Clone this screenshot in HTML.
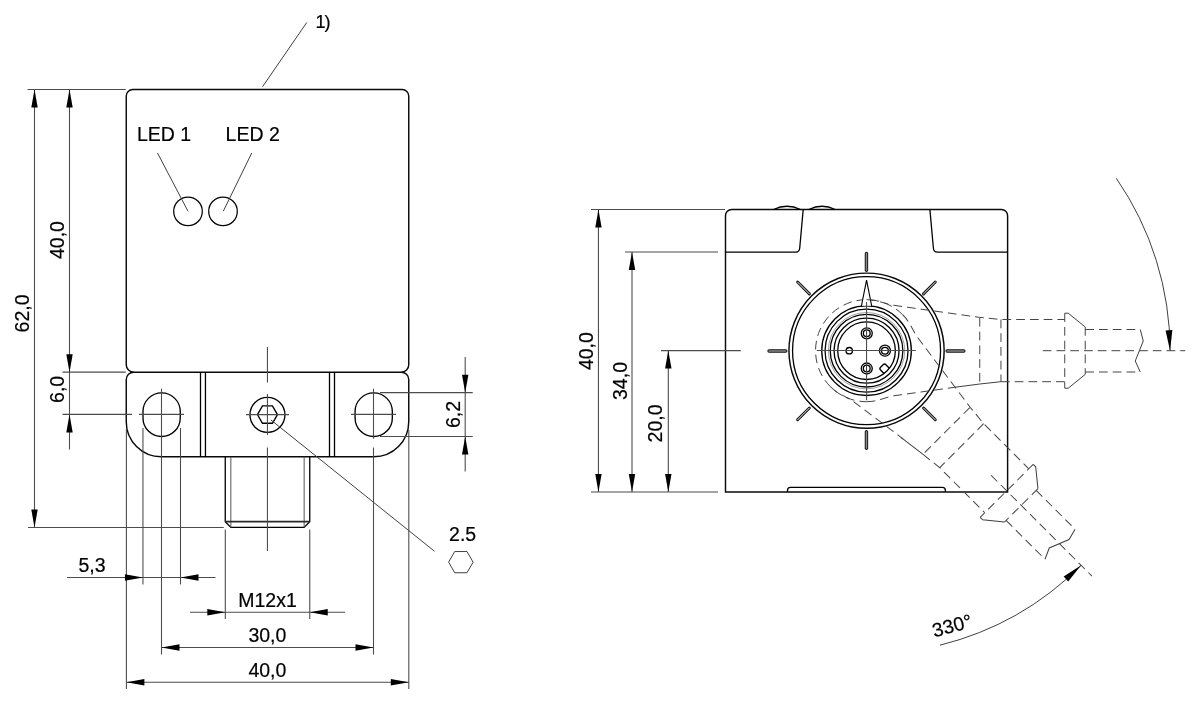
<!DOCTYPE html>
<html><head><meta charset="utf-8"><title>Dimension drawing</title>
<style>
html,body{margin:0;padding:0;background:#fff;}
body{width:1200px;height:705px;overflow:hidden;font-family:"Liberation Sans",sans-serif;}
svg{display:block;will-change:transform;}
svg text{font-family:"Liberation Sans",sans-serif;fill:#000;stroke:#000;stroke-width:0.2;}
.o{fill:none;stroke:#0a0a0a;stroke-width:1.45;}
.o2{fill:none;stroke:#000;stroke-width:1.3;}
.o3{fill:none;stroke:#000;stroke-width:1.35;}
.o3w{fill:#fff;stroke:#000;stroke-width:1.1;stroke-linejoin:miter;}
.t{fill:none;stroke:#404040;stroke-width:1;}
.o5{fill:none;stroke:#000;stroke-width:1.25;}
.ta{fill:none;stroke:#4c4c4c;stroke-width:1.08;}
.t2{fill:none;stroke:#555;stroke-width:1;}
.o4{fill:none;stroke:#2a2a2a;stroke-width:1.7;}
.g{fill:none;stroke:#888;stroke-width:0.8;}
.d{fill:none;stroke:#444;stroke-width:1;stroke-dasharray:8.75 5;}
.a{fill:#000;stroke:none;}
.tk1a{stroke:#111;stroke-width:3.4;stroke-linecap:round;}
.tk2a{stroke:#8a8a8a;stroke-width:1.5;stroke-linecap:round;}
.tk1b{stroke:#111;stroke-width:2.9;stroke-linecap:round;}
.tk2b{stroke:#f2f2f2;stroke-width:1.0;stroke-linecap:round;}
</style></head>
<body>
<svg width="1200" height="705" viewBox="0 0 1200 705">
<rect x="0" y="0" width="1200" height="705" fill="#fff"/>
<path class="o" d="M126.25,364.65 L126.25,96.05 A6.5,6.5 0 0 1 132.75,89.55 L402.25,89.55 A6.5,6.5 0 0 1 408.75,96.05 L408.75,364.65 A7.5,7.5 0 0 1 401.25,372.15 L133.75,372.15 A7.5,7.5 0 0 1 126.25,364.65 Z"/>
<path class="o" d="M133.75,372.15 A7.5,7.5 0 0 0 126.25,379.65 L126.25,421.8 A35.0,35.0 0 0 0 161.25,456.8 L373.75,456.8 A35.0,35.0 0 0 0 408.75,421.8 L408.75,379.65 A7.5,7.5 0 0 0 401.25,372.15"/>
<line class="o2" x1="200.50" y1="372.15" x2="200.50" y2="456.80"/>
<line class="o2" x1="205.45" y1="372.15" x2="205.45" y2="456.80"/>
<line class="o2" x1="329.50" y1="372.15" x2="329.50" y2="456.80"/>
<line class="o2" x1="334.50" y1="372.15" x2="334.50" y2="456.80"/>
<path class="o2" d="M225.25,456.8 L225.25,521.7 L230.85,527.35 L304.15,527.35 L309.75,521.7 L309.75,456.8"/>
<line class="t2" x1="230.85" y1="456.80" x2="230.85" y2="527.35"/>
<line class="t2" x1="304.15" y1="456.80" x2="304.15" y2="527.35"/>
<line class="o4" x1="225.25" y1="521.70" x2="309.75" y2="521.70"/>
<circle class="o5" cx="188.00" cy="211.40" r="14.30"/>
<circle class="o5" cx="223.00" cy="211.40" r="14.30"/>
<line class="t" x1="157.50" y1="153.00" x2="188.00" y2="211.25"/>
<line class="t" x1="251.75" y1="153.00" x2="223.25" y2="211.25"/>
<text x="137.00" y="140.70" font-size="19.5" text-anchor="start">LED 1</text>
<text x="225.60" y="140.70" font-size="19.5" text-anchor="start">LED 2</text>
<line class="t" x1="306.75" y1="22.50" x2="262.50" y2="86.75"/>
<text x="315.60" y="28.40" font-size="18.2" text-anchor="start" letter-spacing="-1.2">1)</text>
<path class="o3" d="M142.995,411.525 A18.625,18.625 0 0 1 180.245,411.525 L180.245,417.875 A18.625,18.625 0 0 1 142.995,417.875 Z"/>
<path class="o3" d="M355.075,411.525 A18.625,18.625 0 0 1 392.325,411.525 L392.325,417.875 A18.625,18.625 0 0 1 355.075,417.875 Z"/>
<circle class="o3" cx="267.45" cy="414.80" r="17.50"/>
<polygon class="o3" points="277.45,414.60 272.45,423.26 262.45,423.26 257.45,414.60 262.45,405.94 272.45,405.94"/>
<line class="ta" x1="246.00" y1="414.60" x2="289.00" y2="414.60"/>
<line class="ta" x1="267.45" y1="347.00" x2="267.45" y2="382.50"/>
<line class="ta" x1="267.45" y1="394.00" x2="267.45" y2="435.00"/>
<line class="ta" x1="267.45" y1="447.50" x2="267.45" y2="551.00"/>
<line class="t" x1="271.00" y1="420.00" x2="434.50" y2="551.25"/>
<text x="449.10" y="540.90" font-size="19.5" text-anchor="start">2.5</text>
<polygon class="t" points="473.10,562.15 466.98,572.76 454.73,572.76 448.60,562.15 454.73,551.54 466.98,551.54"/>
<line class="ta" x1="62.50" y1="414.40" x2="132.00" y2="414.40"/>
<line class="ta" x1="139.00" y1="414.40" x2="184.00" y2="414.40"/>
<line class="ta" x1="351.00" y1="414.40" x2="396.00" y2="414.40"/>
<line class="ta" x1="373.50" y1="388.75" x2="373.50" y2="438.75"/>
<line class="ta" x1="373.50" y1="447.50" x2="373.50" y2="654.50"/>
<line class="ta" x1="161.50" y1="388.75" x2="161.50" y2="654.50"/>
<line class="ta" x1="126.40" y1="428.50" x2="126.40" y2="689.00"/>
<line class="ta" x1="142.95" y1="428.00" x2="142.95" y2="584.50"/>
<line class="ta" x1="180.50" y1="428.00" x2="180.50" y2="584.50"/>
<line class="ta" x1="408.80" y1="430.00" x2="408.80" y2="689.00"/>
<line class="ta" x1="27.50" y1="89.55" x2="125.75" y2="89.55"/>
<line class="ta" x1="62.50" y1="372.15" x2="125.75" y2="372.15"/>
<line class="ta" x1="28.00" y1="527.50" x2="223.75" y2="527.50"/>
<line class="ta" x1="34.50" y1="89.55" x2="34.50" y2="527.50"/>
<polygon class="a" points="34.50,89.55 37.70,107.55 31.30,107.55"/>
<polygon class="a" points="34.50,527.50 31.30,509.50 37.70,509.50"/>
<line class="ta" x1="69.50" y1="89.55" x2="69.50" y2="449.50"/>
<polygon class="a" points="69.50,89.55 72.70,107.55 66.30,107.55"/>
<polygon class="a" points="69.50,372.15 66.30,354.15 72.70,354.15"/>
<polygon class="a" points="69.50,414.40 72.70,432.40 66.30,432.40"/>
<text x="28.70" y="313.40" font-size="19.5" text-anchor="middle" transform="rotate(-90 28.70 313.40)">62,0</text>
<text x="64.30" y="240.00" font-size="19.5" text-anchor="middle" transform="rotate(-90 64.30 240.00)">40,0</text>
<text x="63.80" y="389.40" font-size="19.5" text-anchor="middle" transform="rotate(-90 63.80 389.40)">6,0</text>
<line class="ta" x1="380.00" y1="392.65" x2="472.70" y2="392.65"/>
<line class="ta" x1="380.00" y1="436.50" x2="472.70" y2="436.50"/>
<line class="ta" x1="465.20" y1="357.00" x2="465.20" y2="471.50"/>
<polygon class="a" points="465.20,392.65 462.00,374.65 468.40,374.65"/>
<polygon class="a" points="465.20,436.50 468.40,454.50 462.00,454.50"/>
<text x="459.80" y="414.50" font-size="19.5" text-anchor="middle" transform="rotate(-90 459.80 414.50)">6,2</text>
<line class="ta" x1="67.00" y1="577.45" x2="215.50" y2="577.45"/>
<polygon class="a" points="142.95,577.45 124.95,580.65 124.95,574.25"/>
<polygon class="a" points="180.50,577.45 198.50,574.25 198.50,580.65"/>
<text x="78.40" y="572.00" font-size="19.5" text-anchor="start">5,3</text>
<line class="ta" x1="225.30" y1="529.50" x2="225.30" y2="619.00"/>
<line class="ta" x1="309.75" y1="529.50" x2="309.75" y2="619.00"/>
<line class="ta" x1="190.00" y1="612.30" x2="345.00" y2="612.30"/>
<polygon class="a" points="225.30,612.30 207.30,615.50 207.30,609.10"/>
<polygon class="a" points="309.75,612.30 327.75,609.10 327.75,615.50"/>
<text x="267.50" y="606.80" font-size="19.5" text-anchor="middle">M12x1</text>
<line class="ta" x1="161.50" y1="647.45" x2="373.50" y2="647.45"/>
<polygon class="a" points="161.50,647.45 179.50,644.25 179.50,650.65"/>
<polygon class="a" points="373.50,647.45 355.50,650.65 355.50,644.25"/>
<text x="267.40" y="641.50" font-size="19.5" text-anchor="middle">30,0</text>
<line class="ta" x1="126.40" y1="682.30" x2="408.80" y2="682.30"/>
<polygon class="a" points="126.40,682.30 144.40,679.10 144.40,685.50"/>
<polygon class="a" points="408.80,682.30 390.80,685.50 390.80,679.10"/>
<text x="267.40" y="676.50" font-size="19.5" text-anchor="middle">40,0</text>
<path class="o" d="M725.5,492.05 L725.5,215.7 A6.2,6.2 0 0 1 731.7,209.5 L1001.4,209.5 A6.2,6.2 0 0 1 1007.6,215.7 L1007.6,492.05 Z"/>
<path class="o2" d="M725.5,252.05 L795.8,252.05 Q799.3,252.05 799.7,248.2 L803.2,209.5"/>
<path class="o2" d="M1007.6,252.05 L937.3,252.05 Q933.8,252.05 933.4,248.2 L929.9,209.5"/>
<path class="o3" d="M773.5,209.5 Q787,203.1 800.5,209.5"/>
<path class="o3" d="M808.8,209.5 Q822,203.1 835.2,209.5"/>
<path class="o2" d="M787.5,492.05 L787.5,490.5 Q787.5,487.4 790.5,487.4 L942.4,487.4 Q945.4,487.4 945.4,490.5 L945.4,492.05"/>
<circle class="o" cx="866.55" cy="350.70" r="77.60"/>
<circle class="o2" cx="866.55" cy="350.70" r="74.00"/>
<circle class="o2" cx="866.55" cy="350.70" r="44.80"/>
<circle class="o2" cx="866.55" cy="350.70" r="41.50"/>
<circle class="o2" cx="866.55" cy="350.70" r="36.30"/>
<circle class="o2" cx="866.55" cy="350.70" r="32.50"/>
<circle class="o2" cx="866.55" cy="350.70" r="28.80"/>
<circle class="g" cx="866.55" cy="350.70" r="38.20"/>
<path class="d" d="M902.61,314.64 A51,51 0 1 0 866.55,401.70"/>
<line class="tk1a" x1="947.15" y1="350.95" x2="963.85" y2="350.95"/>
<line class="tk2a" x1="947.15" y1="350.95" x2="963.85" y2="350.95"/>
<line class="tk1b" x1="923.51" y1="408.01" x2="935.32" y2="419.82"/>
<line class="tk2b" x1="923.51" y1="408.01" x2="935.32" y2="419.82"/>
<line class="tk1a" x1="866.45" y1="431.65" x2="866.45" y2="448.35"/>
<line class="tk2a" x1="866.45" y1="431.65" x2="866.45" y2="448.35"/>
<line class="tk1b" x1="809.39" y1="408.01" x2="797.58" y2="419.82"/>
<line class="tk2b" x1="809.39" y1="408.01" x2="797.58" y2="419.82"/>
<line class="tk1a" x1="785.75" y1="350.95" x2="769.05" y2="350.95"/>
<line class="tk2a" x1="785.75" y1="350.95" x2="769.05" y2="350.95"/>
<line class="tk1b" x1="809.39" y1="293.89" x2="797.58" y2="282.08"/>
<line class="tk2b" x1="809.39" y1="293.89" x2="797.58" y2="282.08"/>
<line class="tk1a" x1="866.45" y1="270.25" x2="866.45" y2="253.55"/>
<line class="tk2a" x1="866.45" y1="270.25" x2="866.45" y2="253.55"/>
<line class="tk1b" x1="923.51" y1="293.89" x2="935.32" y2="282.08"/>
<line class="tk2b" x1="923.51" y1="293.89" x2="935.32" y2="282.08"/>
<path class="o3w" d="M861.4499999999999,305.8 L866.55,280.2 L871.65,305.8"/>
<circle class="o2" cx="866.75" cy="333.30" r="5.50"/>
<circle class="o3" cx="866.75" cy="333.30" r="3.40"/>
<circle class="o2" cx="884.95" cy="350.70" r="5.50"/>
<circle class="o3" cx="884.95" cy="350.70" r="3.40"/>
<circle class="o2" cx="866.75" cy="368.50" r="5.50"/>
<circle class="o3" cx="866.75" cy="368.50" r="3.40"/>
<circle class="o3" cx="849.25" cy="350.70" r="3.20"/>
<g transform="translate(866.55,350.7) rotate(45)"><path class="o3" d="M28.5,-3.8 L23.6,-3.8 Q21.6,-3.8 21.6,-1.8 L21.6,1.8 Q21.6,3.8 23.6,3.8 L28.5,3.8"/></g>
<line class="ta" x1="816.80" y1="350.45" x2="915.80" y2="350.45"/>
<line class="ta" x1="866.55" y1="302.00" x2="866.55" y2="400.30"/>
<g transform="translate(866.55,350.7) rotate(0)">
<path class="d" d="M0,-51 C10,-51 17,-47.6 25,-45.7 L113.2,-33.3 L134.4,-31.2 L198.2,-31.2"/>
<path class="d" d="M0,51 C10,51 17,47.6 25,45.4 L88,36.6"/>
<path class="t" d="M88,36.6 L113.2,33.3 L134.4,31.0"/>
<path class="d" d="M134.4,31.0 L198.2,31.0"/>
<path class="d" d="M113.2,-32.8 L113.2,33.3"/>
<path class="d" d="M134.4,-31.2 L134.4,31.0"/>
<path class="d" d="M198.2,-37.5 L198.2,37.5"/>
<path class="t" d="M198.2,-37.5 L201.7,-37.5 L218.7,-23.7"/>
<path class="t" d="M198.2,37.5 L201.7,37.5 L218.7,23.7"/>
<path class="d" d="M218.7,-23.7 L218.7,23.7"/>
<path class="d" d="M218.7,-21.2 L273.7,-21.2"/>
<path class="d" d="M218.7,21.3 L273.7,21.3"/>
<path class="t" d="M273.7,-21.2 L276.7,-9.7 L268.7,10.3 L273.7,21.3"/>
<path class="d" d="M176.2,0 L318.7,0"/>
</g>
<g transform="translate(866.55,350.7) rotate(45)">
<path class="d" d="M0,-51 C10,-51 17,-47.6 25,-45.7 L113.2,-33.3 L134.4,-31.2 L198.2,-31.2"/>
<path class="d" d="M0,51 C10,51 17,47.6 25,45.4 L88,36.6"/>
<path class="t" d="M86,36.9 L113.2,33.3"/>
<path class="d" d="M113.2,33.3 L134.4,31.0 L198.2,31.0"/>
<path class="d" d="M113.2,-32.8 L113.2,33.3"/>
<path class="d" d="M134.4,-31.2 L134.4,31.0"/>
<path class="d" d="M198.2,-37.5 L198.2,37.5"/>
<path class="t" d="M198.2,-37.5 L201.7,-37.5 L218.7,-23.7"/>
<path class="t" d="M198.2,37.5 L201.7,37.5 L218.7,23.7"/>
<path class="d" d="M218.7,-23.7 L218.7,23.7"/>
<path class="d" d="M218.7,-21.2 L273.7,-21.2"/>
<path class="d" d="M218.7,21.3 L273.7,21.3"/>
<path class="t" d="M273.7,-21.2 L276.7,-9.7 L268.7,10.3 L273.7,21.3"/>
<path class="d" d="M176.2,0 L318.7,0"/>
</g>
<path class="t" d="M1116.37,178.36 A303.5,303.5 0 0 1 1170.05,350.70"/>
<polygon class="a" points="1170.05,350.70 1165.58,330.41 1172.37,330.05"/>
<path class="t" d="M939.97,645.18 A303.5,303.5 0 0 0 1081.16,565.31"/>
<polygon class="a" points="1081.16,565.31 1068.20,581.55 1063.65,576.50"/>
<text x="934.30" y="637.40" font-size="19.5" text-anchor="start" transform="rotate(-15 934.30 637.40)">330°</text>
<line class="ta" x1="591.00" y1="209.50" x2="725.00" y2="209.50"/>
<line class="ta" x1="625.00" y1="252.00" x2="718.00" y2="252.00"/>
<line class="ta" x1="661.00" y1="350.60" x2="740.80" y2="350.60"/>
<line class="ta" x1="591.00" y1="492.05" x2="718.00" y2="492.05"/>
<line class="ta" x1="598.45" y1="209.50" x2="598.45" y2="492.05"/>
<polygon class="a" points="598.45,209.50 601.65,227.50 595.25,227.50"/>
<polygon class="a" points="598.45,492.05 595.25,474.05 601.65,474.05"/>
<line class="ta" x1="632.00" y1="252.00" x2="632.00" y2="492.05"/>
<polygon class="a" points="632.00,252.00 635.20,270.00 628.80,270.00"/>
<polygon class="a" points="632.00,492.05 628.80,474.05 635.20,474.05"/>
<line class="ta" x1="668.30" y1="350.60" x2="668.30" y2="492.05"/>
<polygon class="a" points="668.30,350.60 671.50,368.60 665.10,368.60"/>
<polygon class="a" points="668.30,492.05 665.10,474.05 671.50,474.05"/>
<text x="592.80" y="351.10" font-size="19.5" text-anchor="middle" transform="rotate(-90 592.80 351.10)">40,0</text>
<text x="626.70" y="381.00" font-size="19.5" text-anchor="middle" transform="rotate(-90 626.70 381.00)">34,0</text>
<text x="662.50" y="423.40" font-size="19.5" text-anchor="middle" transform="rotate(-90 662.50 423.40)">20,0</text>
</svg>
</body></html>
